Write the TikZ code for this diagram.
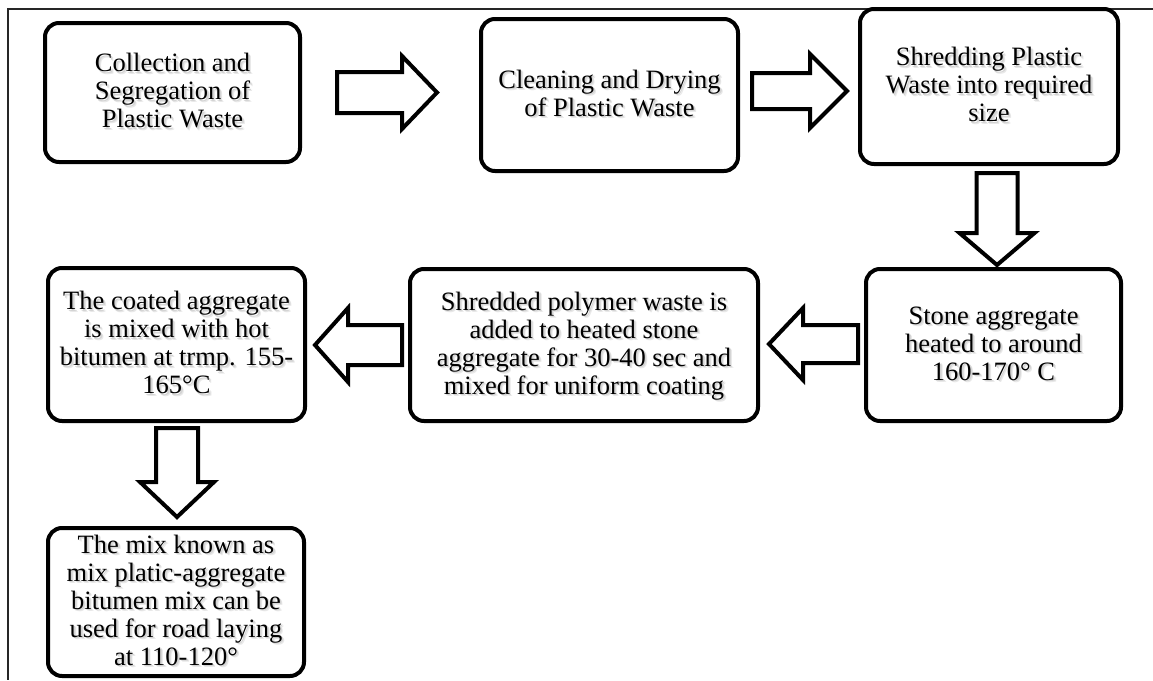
\documentclass[tikz,border=0pt]{standalone}
\usepackage{fontspec}
\setmainfont{Liberation Serif}
\usetikzlibrary{calc}

% centred lines of a box text
\newcommand\boxlines[1]{\begin{tabular}{@{}c@{}}#1\end{tabular}}
% the same lines with a soft grey shadow behind them, set a little low
\newcommand\shadowed[1]{\raisebox{-3pt}[\height][\depth]{%
  \makebox[0pt][l]{\kern2.6pt\raisebox{-2.6pt}{\color{black!9}\boxlines{#1}}}%
  \makebox[0pt][l]{\kern1.6pt\raisebox{-1.6pt}{\color{black!17}\boxlines{#1}}}%
  \boxlines{#1}}}

\begin{document}
\begin{tikzpicture}[x=1pt,y=-1pt,
  stepbox/.style={draw, line width=4pt, rounded corners=14pt, inner sep=0pt,
    align=center, fill=white, font=\fontsize{26.5}{28}\selectfont},
  arrowline/.style={draw, line width=4pt, fill=white, line join=miter},
  % block arrow: length / shaft half width / head half width / head length
  pics/blockarrow/.style args={#1/#2/#3/#4}{code={
    \path[arrowline] (0,-#2) -- (#1-#4,-#2) -- (#1-#4,-#3) -- (#1,0)
      -- (#1-#4,#3) -- (#1-#4,#2) -- (0,#2) -- cycle;}}]
\useasboundingbox (0,0) rectangle (1153,680);

% page frame
\draw[line width=1.3pt, black!85] (1153,9) -- (8,9) -- (8,680);

% process steps
\node[stepbox, minimum width=255, minimum height=139] (b1) at (172.5,92.5)
  {\shadowed{Collection and\\Segregation of\\Plastic Waste}};
\node[stepbox, minimum width=257, minimum height=152] (b2) at (609.5,95)
  {\shadowed{Cleaning and Drying\\of Plastic Waste}};
\node[stepbox, minimum width=258, minimum height=155] (b3) at (989,86.5)
  {\shadowed{Shredding Plastic\\Waste into required\\size}};
\node[stepbox, minimum width=255, minimum height=152] (b4) at (993.5,345)
  {\shadowed{Stone aggregate\\heated to around\\160-170° C}};
\node[stepbox, minimum width=348, minimum height=152] (b5) at (584,345)
  {\shadowed{Shredded polymer waste is\\added to heated stone\\aggregate for 30-40 sec and\\mixed for uniform coating}};
\node[stepbox, minimum width=257, minimum height=153] (b6) at (176.5,344.5)
  {\shadowed{The coated aggregate\\is mixed with hot\\bitumen at trmp. 155-\\165°C}};
\node[stepbox, minimum width=256, minimum height=148] (b7) at (176,602)
  {\shadowed{The mix known as\\mix platic-aggregate\\bitumen mix can be\\used for road laying\\at 110-120°}};

% flow arrows between the steps
\pic at ($(b1.east)+(35,0)$) {blockarrow=100/20.5/36.5/35};
\pic at ($(b2.east)+(12,-4)$) {blockarrow=95/18/37/37};
\pic[rotate=-90] at ($(b3.south)+(8,7)$) {blockarrow=92/20.5/37.5/32};
\pic[rotate=180] at ($(b4.west)+(-6,-1)$) {blockarrow=89/19/36/34};
\pic[rotate=180] at ($(b5.west)+(-6,0)$) {blockarrow=87/20/37/33};
\pic[rotate=-90] at ($(b6.south)+(0.5,5)$) {blockarrow=89/21/37/35};
\end{tikzpicture}
\end{document}
